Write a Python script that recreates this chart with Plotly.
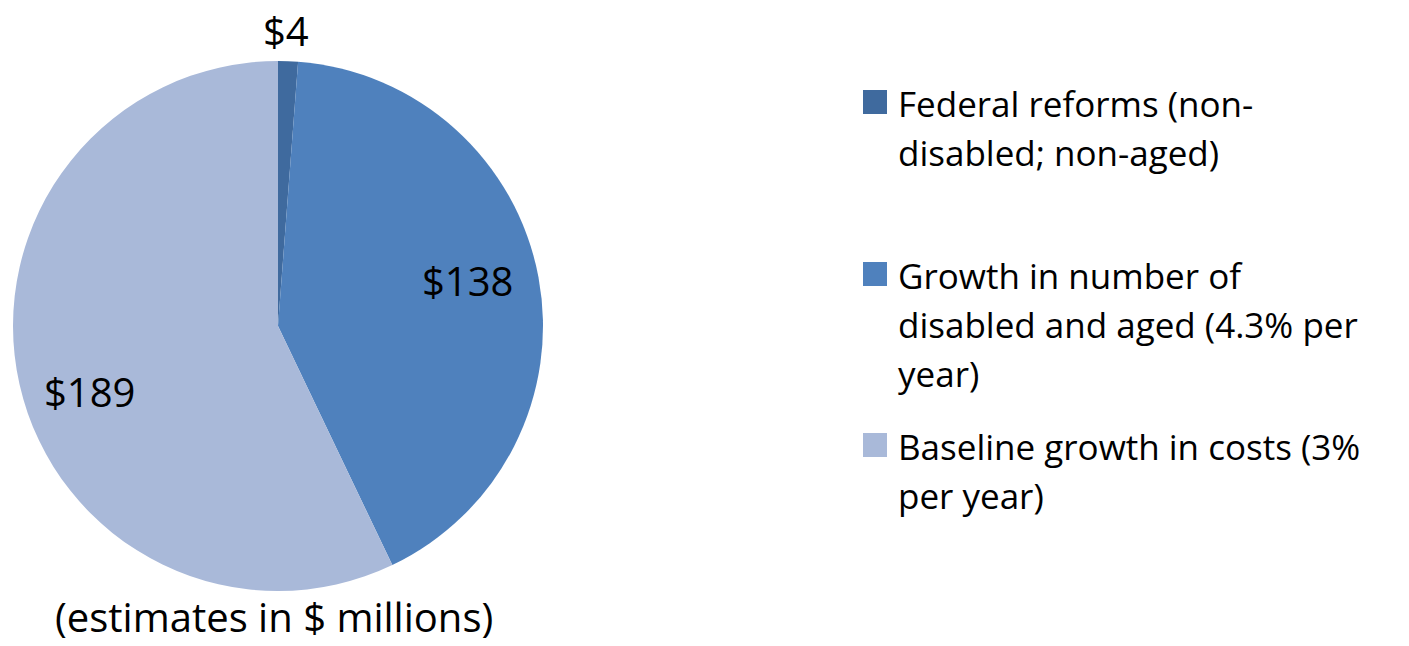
import math
import plotly.graph_objects as go

# Cost components (estimates in $ millions)
categories = [
    "Federal reforms (non-disabled; non-aged)",
    "Growth in number of disabled and aged (4.3% per year)",
    "Baseline growth in costs (3% per year)",
]
legend_lines = [
    ["Federal reforms (non-", "disabled; non-aged)"],
    ["Growth in number of", "disabled and aged (4.3% per", "year)"],
    ["Baseline growth in costs (3%", "per year)"],
]
values = [4, 138, 189]
colors = ["#3F6A9E", "#4F81BD", "#A9B9D9"]
footnote = "(estimates in $ millions)"

W, H = 1409, 646
FONT = "'Open Sans', Lato, sans-serif"
TXT = "#000000"

# pie geometry in pixels
CX, CY, R = 278, 326, 265

# value-label placement: (radius fraction, angular nudge in degrees)
label_place = [(1.117, -0.7), (0.735, -2.8), (0.752, -6.5)]

# legend layout (pixels)
LEG_SQ_X = 863
LEG_TXT_X = 896
LEG_FIRST_BASELINE = [115, 287, 458]
LEG_LINE_H = 49
SQ = 24


def px(x):
    return x / W


def py(y):
    return 1 - y / H


fig = go.Figure(
    go.Pie(
        labels=categories,
        values=values,
        marker=dict(colors=colors, line=dict(width=0)),
        sort=False,
        direction="clockwise",
        rotation=0,
        textinfo="none",
        hoverinfo="label+value",
        showlegend=False,
        domain=dict(x=[px(CX - R), px(CX + R)], y=[py(CY + R), py(CY - R)]),
    )
)

annotations = []
shapes = []

# value labels at each slice's angle
total = sum(values)
cum = 0.0
for v, (frac, nudge) in zip(values, label_place):
    mid = (cum + v / 2) / total * 360 + nudge
    cum += v
    r = frac * R
    x = CX + r * math.sin(math.radians(mid))
    y = CY - r * math.cos(math.radians(mid))
    annotations.append(
        dict(
            x=px(x), y=py(y), xref="paper", yref="paper",
            text=f"${v}", showarrow=False,
            xanchor="center", yanchor="middle",
            font=dict(family=FONT, size=40, color=TXT),
        )
    )

# legend
for lines, col, base in zip(legend_lines, colors, LEG_FIRST_BASELINE):
    shapes.append(
        dict(
            type="rect", xref="paper", yref="paper",
            x0=px(LEG_SQ_X), x1=px(LEG_SQ_X + SQ),
            y0=py(base - 1), y1=py(base - 1 - SQ),
            fillcolor=col, line=dict(width=0),
        )
    )
    for i, line in enumerate(lines):
        yb = base + i * LEG_LINE_H
        annotations.append(
            dict(
                x=px(LEG_TXT_X), y=py(yb - 12), xref="paper", yref="paper",
                text=line, showarrow=False,
                xanchor="left", yanchor="middle",
                font=dict(family=FONT, size=35, color=TXT),
            )
        )

annotations.append(
    dict(
        x=px(274), y=py(616), xref="paper", yref="paper",
        text=footnote, showarrow=False,
        xanchor="center", yanchor="middle",
        font=dict(family=FONT, size=40, color=TXT),
    )
)

fig.update_layout(
    width=W, height=H,
    margin=dict(l=0, r=0, t=0, b=0),
    paper_bgcolor="white",
    plot_bgcolor="white",
    annotations=annotations,
    shapes=shapes,
)

fig.write_html("out.html")
